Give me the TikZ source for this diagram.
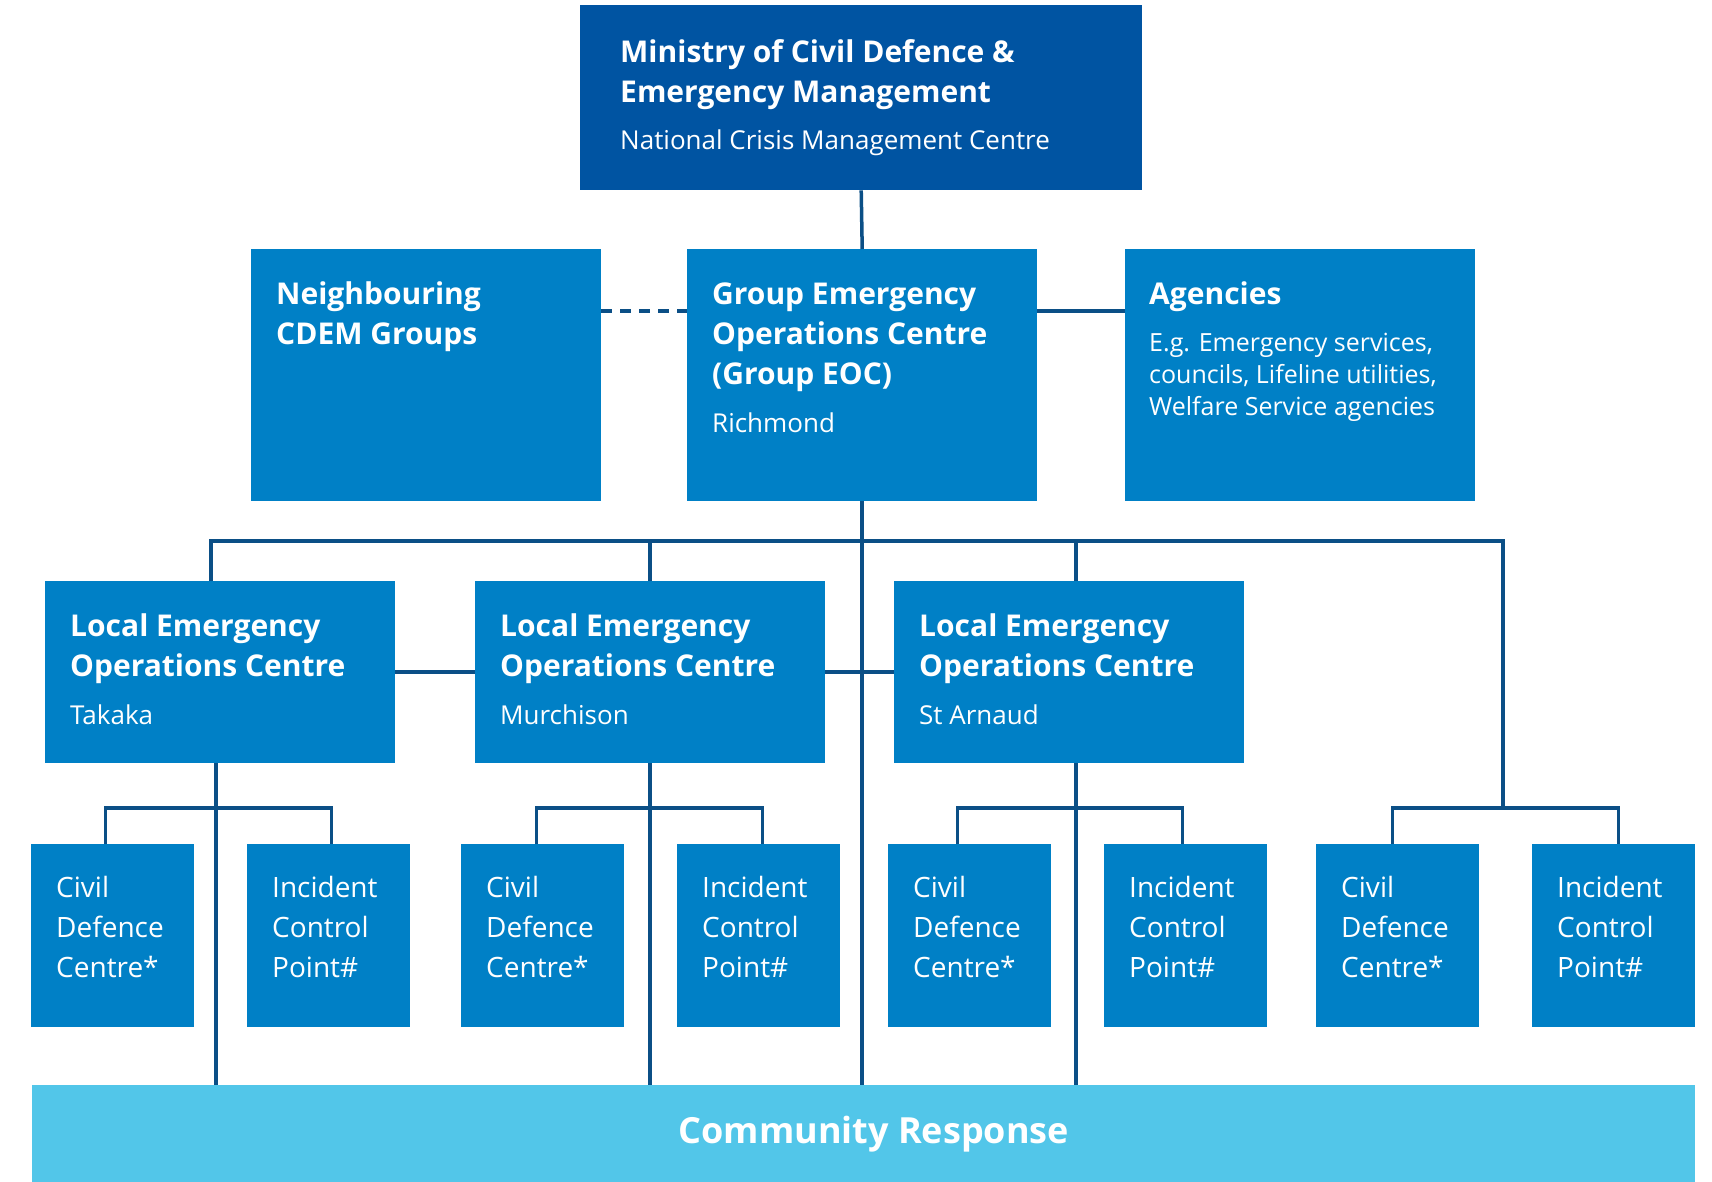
\documentclass[tikz,border=0pt]{standalone}
\usepackage{fontspec}
\setmainfont{Open Sans}
\usetikzlibrary{calc, positioning}

\definecolor{mcdem}{HTML}{0054A2}
\definecolor{eocblue}{HTML}{0080C6}
\definecolor{linkblue}{HTML}{0B4F86}
\definecolor{commblue}{HTML}{52C6E9}

\newcommand{\headfont}{\fontsize{30}{40}\selectfont\bfseries\spaceskip=0pt\xspaceskip=0pt\relax}
\newcommand{\subfont}{\fontsize{26}{40}\selectfont\mdseries\spaceskip=0pt\xspaceskip=0pt\relax}
\newcommand{\cdcfont}{\fontsize{28}{40}\selectfont\mdseries\spaceskip=0pt\xspaceskip=0pt\relax}
\newcommand{\agyfont}{\fontsize{25}{32}\selectfont\mdseries\spaceskip=0pt\xspaceskip=0pt\relax}

\tikzset{
  box/.style={fill=eocblue, anchor=north west, inner sep=0pt},
  txt/.style={anchor=north west, inner sep=0pt, text=white, text width=#1,
    execute at begin node=\raggedright},
  txt/.default=300pt,
  link/.style={draw=linkblue, line width=3.5pt},
}

\begin{document}
\begin{tikzpicture}[x=1pt, y=-1pt]
  \useasboundingbox (0,0) rectangle (1712,1182);
  % Ministry
  \node[box, fill=mcdem, minimum width=562pt, minimum height=185pt] (min) at (580,5) {};
  \node[txt=500pt] (min-t) at ([xshift=40pt, yshift=-29pt]min.north west)
    {\headfont\strut Ministry of Civil Defence \&\\Emergency Management\par
     \vspace{7pt}\subfont National Crisis Management Centre\par};
  % Group level
  \node[box, minimum width=350pt, minimum height=252pt] (ngh) at (251,249) {};
  \node[box, minimum width=350pt, minimum height=252pt] (geoc) at (687,249) {};
  \node[box, minimum width=350pt, minimum height=252pt] (agy) at (1125,249) {};
  \node[txt] (ngh-t) at ([xshift=25pt, yshift=-27pt]ngh.north west)
    {\headfont\strut Neighbouring\\CDEM Groups\par};
  \node[txt] (geoc-t) at ([xshift=25pt, yshift=-27pt]geoc.north west)
    {\headfont\strut Group Emergency\\Operations Centre\\(Group EOC)\par
     \vspace{8pt}\subfont Richmond\par};
  \node[txt=320pt] (agy-t) at ([xshift=24pt, yshift=-27pt]agy.north west)
    {\headfont\strut Agencies\par
     \vspace{15pt}\agyfont E.g. Emergency services,\\councils, Lifeline utilities,\\Welfare Service agencies\par};
  % Local EOCs
  \node[box, minimum width=350pt, minimum height=182pt] (takaka) at (45,581) {};
  \node[box, minimum width=350pt, minimum height=182pt] (murchison) at (475,581) {};
  \node[box, minimum width=350pt, minimum height=182pt] (starnaud) at (894,581) {};
  \node[txt] (takaka-t) at ([xshift=25pt, yshift=-27pt]takaka.north west)
    {\headfont\strut Local Emergency\\Operations Centre\par\vspace{8pt}\subfont Takaka\par};
  \node[txt] (murchison-t) at ([xshift=25pt, yshift=-27pt]murchison.north west)
    {\headfont\strut Local Emergency\\Operations Centre\par\vspace{8pt}\subfont Murchison\par};
  \node[txt] (starnaud-t) at ([xshift=25pt, yshift=-27pt]starnaud.north west)
    {\headfont\strut Local Emergency\\Operations Centre\par\vspace{8pt}\subfont St Arnaud\par};
  % Civil defence centres and incident control points
  \node[box, minimum width=163pt, minimum height=183pt] (cdc1) at (31,844) {};
  \node[box, minimum width=163pt, minimum height=183pt] (icp1) at (247,844) {};
  \node[box, minimum width=163pt, minimum height=183pt] (cdc2) at (461,844) {};
  \node[box, minimum width=163pt, minimum height=183pt] (icp2) at (677,844) {};
  \node[box, minimum width=163pt, minimum height=183pt] (cdc3) at (888,844) {};
  \node[box, minimum width=163pt, minimum height=183pt] (icp3) at (1104,844) {};
  \node[box, minimum width=163pt, minimum height=183pt] (cdc4) at (1316,844) {};
  \node[box, minimum width=163pt, minimum height=183pt] (icp4) at (1532,844) {};
  \node[txt=140pt] (cdc1-t) at ([xshift=25pt, yshift=-25pt]cdc1.north west) {\cdcfont\strut Civil\\Defence\\Centre*\par};
  \node[txt=140pt] (icp1-t) at ([xshift=25pt, yshift=-25pt]icp1.north west) {\cdcfont\strut Incident\\Control\\Point\#\par};
  \node[txt=140pt] (cdc2-t) at ([xshift=25pt, yshift=-25pt]cdc2.north west) {\cdcfont\strut Civil\\Defence\\Centre*\par};
  \node[txt=140pt] (icp2-t) at ([xshift=25pt, yshift=-25pt]icp2.north west) {\cdcfont\strut Incident\\Control\\Point\#\par};
  \node[txt=140pt] (cdc3-t) at ([xshift=25pt, yshift=-25pt]cdc3.north west) {\cdcfont\strut Civil\\Defence\\Centre*\par};
  \node[txt=140pt] (icp3-t) at ([xshift=25pt, yshift=-25pt]icp3.north west) {\cdcfont\strut Incident\\Control\\Point\#\par};
  \node[txt=140pt] (cdc4-t) at ([xshift=25pt, yshift=-25pt]cdc4.north west) {\cdcfont\strut Civil\\Defence\\Centre*\par};
  \node[txt=140pt] (icp4-t) at ([xshift=25pt, yshift=-25pt]icp4.north west) {\cdcfont\strut Incident\\Control\\Point\#\par};
  % Community response
  \node[box, fill=commblue, minimum width=1663pt, minimum height=97pt] (comm) at (32,1085) {};
  \node[text=white, font=\fontsize{36}{44}\selectfont\bfseries, inner sep=0pt] (comm-t)
    at ([xshift=10pt]comm.center) {Community Response};

  % Links between levels
  \coordinate (busend) at (1503,541);
  \coordinate (bar) at (0,808);
  \draw[link] (min.south) -- (geoc.north);
  \draw[link] (geoc.south) -- (geoc.south |- comm.north);
  \draw[link, dash pattern=on 11pt off 8pt] ([yshift=-62pt]ngh.north east) -- ([yshift=-62pt]geoc.north west);
  \draw[link] ([yshift=-62pt]geoc.north east) -- ([yshift=-62pt]agy.north west);
  \draw[link] ([xshift=-9pt]takaka.north) -- ([xshift=-9pt]takaka.north |- busend) -- (busend) -- (busend |- bar);
  \draw[link] (murchison.north) -- (murchison.north |- busend);
  \draw[link] ([xshift=7pt]starnaud.north) -- ([xshift=7pt]starnaud.north |- busend);
  \draw[link] (takaka.east) -- (murchison.west);
  \draw[link] (murchison.east) -- (starnaud.west);
  % Down to the community
  \draw[link] ([xshift=-4pt]takaka.south) -- ([xshift=-4pt]takaka.south |- comm.north);
  \draw[link] (murchison.south) -- (murchison.south |- comm.north);
  \draw[link] ([xshift=7pt]starnaud.south) -- ([xshift=7pt]starnaud.south |- comm.north);
  \draw[link] ([xshift=-7pt]cdc1.north) -- ([xshift=-7pt]cdc1.north |- bar) -- ([xshift=3pt]icp1.north |- bar) -- ([xshift=3pt]icp1.north);
  \draw[link] ([xshift=-6pt]cdc2.north) -- ([xshift=-6pt]cdc2.north |- bar) -- ([xshift=4pt]icp2.north |- bar) -- ([xshift=4pt]icp2.north);
  \draw[link] ([xshift=-12pt]cdc3.north) -- ([xshift=-12pt]cdc3.north |- bar) -- ([xshift=-3pt]icp3.north |- bar) -- ([xshift=-3pt]icp3.north);
  \draw[link] ([xshift=-5pt]cdc4.north) -- ([xshift=-5pt]cdc4.north |- bar) -- ([xshift=5pt]icp4.north |- bar) -- ([xshift=5pt]icp4.north);
\end{tikzpicture}
\end{document}
